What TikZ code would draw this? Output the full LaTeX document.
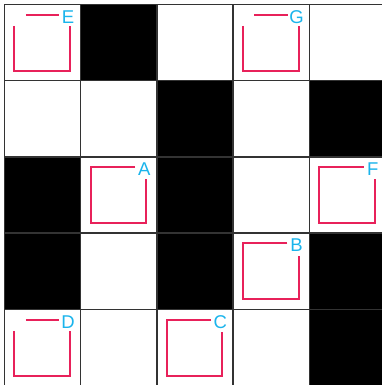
\documentclass[tikz,border=0pt]{standalone}
\usepackage{fontspec}
\setmainfont{Liberation Sans}
\definecolor{pinkline}{HTML}{E8215A}
\definecolor{labelblue}{HTML}{1AB4EC}
\definecolor{gridgray}{HTML}{333333}
\newcommand\mzbracketone[4]{%
 \begin{scope}[shift={(4.5+76.2*#1,4.5+76.2*#2)}]
  \draw[bracket] (21.3,10.3) -- (54.5,10.3);
  \draw[bracket] (9.8,21.5) -- (9.8,66.3) -- (65.5,66.3) -- (65.5,21.5);
  \node[lab] (#4) at (63.5,18.8) {#3};
 \end{scope}}
\newcommand\mzbrackettwo[4]{%
 \begin{scope}[shift={(4.5+76.2*#1,4.5+76.2*#2)}]
  \draw[bracket] (54.3,10.3) -- (9.8,10.3) -- (9.8,66.3) -- (65.5,66.3) -- (65.5,22.5);
  \node[lab] (#4) at (63.5,18.8) {#3};
 \end{scope}}
\begin{document}
\begin{tikzpicture}[x=1pt,y=-1pt,
  gridline/.style={draw=gridgray,line width=1.5pt},
  bracket/.style={draw=pinkline,line width=2pt},
  lab/.style={text=labelblue,font=\fontsize{18.5}{20}\selectfont,anchor=base,inner sep=0pt}]
\useasboundingbox (0,0) rectangle (382,385);
\fill[white] (0,0) rectangle (382,385);
\begin{scope}
\clip (0,0) rectangle (382,385);
\foreach \c/\r in {1/0,2/1,4/1,0/2,2/2,0/3,2/3,4/3,4/4}
  \fill[black] (4.5+76.2*\c,4.5+76.2*\r) rectangle ++(76.2,76.2);
\foreach \i in {0,...,5} {
  \draw[gridline] (4.5+76.2*\i,4.5) -- (4.5+76.2*\i,386);
  \draw[gridline] (4.5,4.5+76.2*\i) -- (386,4.5+76.2*\i);
}
\end{scope}
\mzbracketone{0}{0}{E}{e}
\mzbracketone{3}{0}{G}{g}
\mzbracketone{0}{4}{D}{d}
\mzbrackettwo{1}{2}{A}{a}
\mzbrackettwo{4}{2}{F}{f}
\mzbrackettwo{3}{3}{B}{b}
\mzbrackettwo{2}{4}{C}{c}
\end{tikzpicture}
\end{document}
